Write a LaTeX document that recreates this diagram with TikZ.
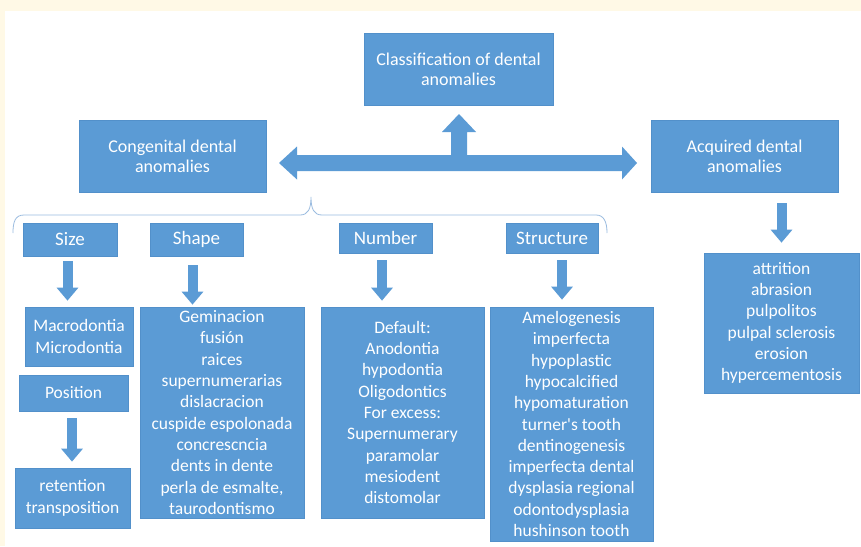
\documentclass[tikz,border=0pt]{standalone}
\usepackage{fontspec}
\setmainfont{Carlito}
\usetikzlibrary{arrows.meta}
\definecolor{boxblue}{HTML}{5B9BD5}
\definecolor{boxline}{HTML}{5290CA}
\definecolor{cream}{HTML}{FFF9E6}
\definecolor{bracecol}{HTML}{9BBCE0}
\tikzset{
  box/.style={rectangle, fill=boxblue, draw=boxline, line width=0.7pt, text=white, align=center, inner sep=0pt},
  titlebox/.style={box, font=\fontsize{18}{20}\selectfont},
  headbox/.style={box, font=\fontsize{19}{21}\selectfont},
  listbox/.style={box, font=\fontsize{17.5}{21.3}\selectfont},
  downarr/.style={draw=boxblue, line width=10pt, -{Triangle[width=21pt,length=13pt]}, color=boxblue},
}
\begin{document}
\begin{tikzpicture}[x=1pt,y=-1pt]
\useasboundingbox (0,0) rectangle (861,546);
\fill[cream] (0,0) rectangle (861,546);
\fill[white] (5,11) rectangle (861,546);

% top level
\node[titlebox, minimum width=189, minimum height=72] (class) at (458.5,69) {Classification of dental\\anomalies};
\node[titlebox, minimum width=187, minimum height=72] (cong) at (172.5,156) {Congenital dental\\anomalies};
\node[titlebox, minimum width=187, minimum height=72] (acq) at (744.5,156) {Acquired dental\\anomalies};

% big double arrow with upward branch
\fill[boxblue] (279,163) -- (297,146.5) -- (297,155) -- (451,155) -- (451,132) -- (442,132) -- (459,114)
  -- (476,132) -- (467,132) -- (467,155) -- (622,155) -- (622,146.5) -- (637,163) -- (622,179.5)
  -- (622,171) -- (297,171) -- (297,179.5) -- cycle;

% brace
\draw[bracecol, line width=0.8pt] (13,233) .. controls (13,222) and (15,215) .. (24,215) -- (300,215)
  .. controls (308,215) and (311,209) .. (311,197) .. controls (311,209) and (314,215) .. (322,215)
  -- (596,215) .. controls (604,215) and (607,222) .. (607,233);

% headers
\node[headbox, minimum width=94, minimum height=33] (size) at (70,239.5) {Size};
\node[headbox, minimum width=93, minimum height=33] (shape) at (196.5,239.5) {Shape};
\node[headbox, minimum width=93, minimum height=30] (number) at (385.5,238) {Number};
\node[headbox, minimum width=92, minimum height=30] (structure) at (552,238) {Structure};

% lists
\node[listbox, minimum width=108, minimum height=59] (macro) at (79,336.5) {Macrodontia\\Microdontia};
\node[headbox, font=\fontsize{17.5}{21}\selectfont, minimum width=109, minimum height=36] (position) at (73.5,393) {Position};
\node[listbox, minimum width=115, minimum height=60] (retention) at (72.5,498) {retention\\transposition};
\node[listbox, minimum width=164, minimum height=211] (shapelist) at (222,412.5) {Geminacion\\fusión\\raices\\supernumerarias\\dislacracion\\cuspide espolonada\\concrescncia\\dents in dente\\perla de esmalte,\\taurodontismo};
\node[listbox, minimum width=163, minimum height=211] (numlist) at (402.5,412.5) {Default:\\Anodontia\\hypodontia\\Oligodontics\\For excess:\\Supernumerary\\paramolar\\mesiodent\\distomolar};
\node[listbox, minimum width=163, minimum height=234] (structlist) at (571.5,424) {Amelogenesis\\imperfecta\\hypoplastic\\hypocalcified\\hypomaturation\\turner\textquotesingle s tooth\\dentinogenesis\\imperfecta dental\\dysplasia regional\\odontodysplasia\\hushinson tooth};
\node[listbox, minimum width=155, minimum height=140] (acqlist) at (781.5,323) {attrition\\abrasion\\pulpolitos\\pulpal sclerosis\\erosion\\hypercementosis};

% down arrows
\draw[downarr, shorten <=5pt, shorten >=6pt] ([xshift=-2.5pt]size.south) -- ([xshift=-2.5pt]size.south |- macro.north);
\draw[downarr, shorten <=9pt, shorten >=2pt] ([xshift=-4pt]shape.south) -- ([xshift=-4pt]shape.south |- shapelist.north);
\draw[downarr, shorten <=7pt, shorten >=6pt] ([xshift=-3.5pt]number.south) -- ([xshift=-3.5pt]number.south |- numlist.north);
\draw[downarr, shorten <=7pt, shorten >=7pt] ([xshift=10pt]structure.south) -- ([xshift=10pt]structure.south |- structlist.north);
\draw[downarr, shorten <=7pt, shorten >=6pt] ([xshift=-1.5pt]position.south) -- ([xshift=-1.5pt]position.south |- retention.north);
\draw[downarr, shorten <=11pt, shorten >=10pt] (acqlist.north |- acq.south) -- (acqlist.north);
\end{tikzpicture}
\end{document}
